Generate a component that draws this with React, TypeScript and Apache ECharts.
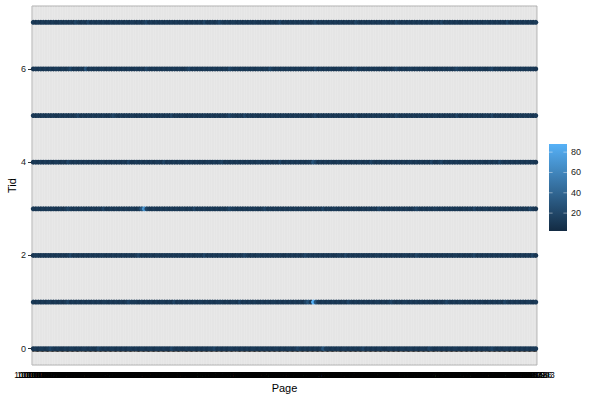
import { useEffect, useRef } from "react";
import * as echarts from "echarts";

// Tid rows (y values)
const tids = [0, 1, 2, 3, 4, 5, 6, 7];

// Page categories (x axis) – dense, illegible ids in the reference
const pageIds: string[] = Array.from({ length: 200 }, (_, i) => String(10000000 + i * 457));

// colour value for each level digit used in the row strings below
const levelValues = [2.4, 6, 9, 12, 18, 28, 40, 55, 68, 88];

// one digit per page, read (estimated) from the picture for each Tid row
const rowLevels: string[] = [
  ["2323323432", "3223233232", "3323224323", "2332323233", "2323323323", "3232243232", "2323323232", "3342323233", "2323232332", "3232323323",
   "2332343232", "3232353323", "2323323232", "3423232332", "2332323323", "3232332432", "2323232332", "3323232323", "2343232332", "3232323233"].join(""),
  ["3232323323", "2323423232", "3232323233", "2323232343", "3323232323", "2332324232", "3232323323", "2323332323", "3242323232", "2323233232",
   "3232323245", "3953232323", "2323243232", "3232323323", "2343232332", "3232323232", "2323432323", "3232323232", "2323232432", "3232323323"].join(""),
  ["2332323232", "3232342323", "2323232332", "3232323232", "2342323323", "3232323232", "2323233242", "3232323232", "2323432323", "3232323232",
   "2323232343", "3232323232", "2332423232", "3232323323", "2323232332", "3243232323", "2323232332", "3232342323", "2323232323", "3232323242"].join(""),
  ["3232323232", "2323432323", "3232323242", "2323232323", "3235843232", "2323232323", "3232423232", "2323232343", "3232323232", "2342323232",
   "3232323323", "2323242323", "3232323232", "2323232432", "3232323232", "2343232323", "3232323232", "2323242323", "3232323232", "2323232432"].join(""),
  ["2323232323", "3232432323", "2323232332", "3232323242", "2323232323", "3242323232", "2323232323", "3232342323", "2323232323", "3232323242",
   "2323232323", "3542323232", "2323232323", "3232432323", "2323232323", "3232323242", "2342323232", "3232323232", "2323243232", "3232323232"].join(""),
  ["3232323232", "2323232342", "3232323232", "2343232323", "3232323232", "2323242323", "3232323232", "2323232343", "3232423232", "2323232323",
   "3232323232", "2342323232", "3232323242", "2323232323", "3232432323", "2323232323", "3232323242", "2323232323", "3242323232", "2323232323"].join(""),
  ["2323232323", "3232342323", "2523232332", "3232323232", "2323243232", "3232323232", "2342323232", "3232323243", "2323232323", "3232432323",
   "2323232323", "3242323232", "2323232342", "3232323232", "2323432323", "3232323232", "2323232343", "3232323232", "2342323232", "3232323232"].join(""),
  ["3232323232", "2323232432", "3242323232", "2323232323", "3232342323", "2323232323", "3232323242", "2323432323", "3232323232", "2323232342",
   "3232323232", "2342323232", "3232323243", "2323232323", "3232432323", "2323232323", "3242323232", "2323232323", "3232323242", "2323232323"].join(""),
];

const colorRange = [2.4, 88];
const lowColor = "#132B43";
const highColor = "#56B1F7";
const yTicks = [0, 2, 4, 6];
const legendTicks = [20, 40, 60, 80];

export default function App() {
  const ref = useRef<HTMLDivElement>(null);

  useEffect(() => {
    if (!ref.current) return;
    const chart = echarts.init(ref.current, undefined, { renderer: "svg" });

    const points: number[][] = [];
    rowLevels.forEach((row, r) => {
      for (let i = 0; i < row.length && i < pageIds.length; i++) {
        points.push([i, tids[r], levelValues[Number(row[i])]]);
      }
    });

    // colourbar legend geometry
    const barX = 549, barTop = 144, barW = 18, barH = 87;
    const valToY = (v: number) =>
      barTop + barH - ((v - colorRange[0]) / (colorRange[1] - colorRange[0])) * barH;

    const legendEls: any[] = [
      {
        type: "rect",
        shape: { x: barX, y: barTop, width: barW, height: barH },
        style: {
          fill: {
            type: "linear", x: 0, y: 0, x2: 0, y2: 1,
            colorStops: [
              { offset: 0, color: highColor },
              { offset: 1, color: lowColor },
            ],
          },
        },
      },
    ];
    legendTicks.forEach((t) => {
      const y = valToY(t);
      legendEls.push(
        { type: "line", shape: { x1: barX, y1: y, x2: barX + 3.6, y2: y }, style: { stroke: "rgba(255,255,255,0.55)", lineWidth: 0.8 } },
        { type: "line", shape: { x1: barX + barW - 3.6, y1: y, x2: barX + barW, y2: y }, style: { stroke: "rgba(255,255,255,0.55)", lineWidth: 0.8 } },
        { type: "text", x: barX + barW + 4, y, style: { text: String(t), fontSize: 9, fill: "#1a1a1a", align: "left", verticalAlign: "middle", fontFamily: "Liberation Sans, Arial, sans-serif" } }
      );
    });

    chart.setOption({
      animation: false,
      backgroundColor: "#ffffff",
      textStyle: { fontFamily: "Liberation Sans, Arial, sans-serif" },
      grid: {
        left: 32, right: 63, top: 6, bottom: 35,
        show: true, backgroundColor: "#E5E5E5", borderColor: "#B0B0B0", borderWidth: 1,
        outerBoundsMode: "none",
      },
      xAxis: {
        type: "category",
        data: pageIds,
        boundaryGap: true,
        axisLine: { show: false },
        axisTick: { show: true, interval: 0, alignWithLabel: true, length: 3, lineStyle: { color: "#111", width: 2.6 } },
        axisLabel: { interval: 0, margin: 5, fontSize: 8.5, color: "#000" },
        splitLine: { show: true, interval: 0, lineStyle: { color: "rgba(255,255,255,0.25)", width: 0.5 } },
      },
      yAxis: {
        type: "value",
        min: -0.35,
        max: 7.35,
        axisLine: { show: false },
        axisTick: { show: true, customValues: yTicks, length: 4, lineStyle: { color: "#333" } },
        axisLabel: { customValues: yTicks, margin: 6, fontSize: 9, color: "#1a1a1a" },
        splitLine: { show: false },
      },
      visualMap: {
        show: false,
        type: "continuous",
        min: colorRange[0],
        max: colorRange[1],
        dimension: 2,
        inRange: { color: [lowColor, highColor] },
      },
      series: [
        {
          type: "scatter",
          data: points,
          symbol: "circle",
          symbolSize: 5,
          itemStyle: { opacity: 1 },
        },
      ],
      graphic: [
        { type: "text", x: 284.5, y: 388, style: { text: "Page", fontSize: 11, fill: "#000", align: "center", verticalAlign: "middle", fontFamily: "Liberation Sans, Arial, sans-serif" } },
        { type: "text", x: 12, y: 185.5, rotation: Math.PI / 2, style: { text: "Tid", fontSize: 11, fill: "#000", align: "center", verticalAlign: "middle", fontFamily: "Liberation Sans, Arial, sans-serif" } },
        ...legendEls,
      ],
    });

    return () => chart.dispose();
  }, []);

  return <div ref={ref} style={{ position: "fixed", left: 0, top: 0, width: 600, height: 400 }} />;
}
